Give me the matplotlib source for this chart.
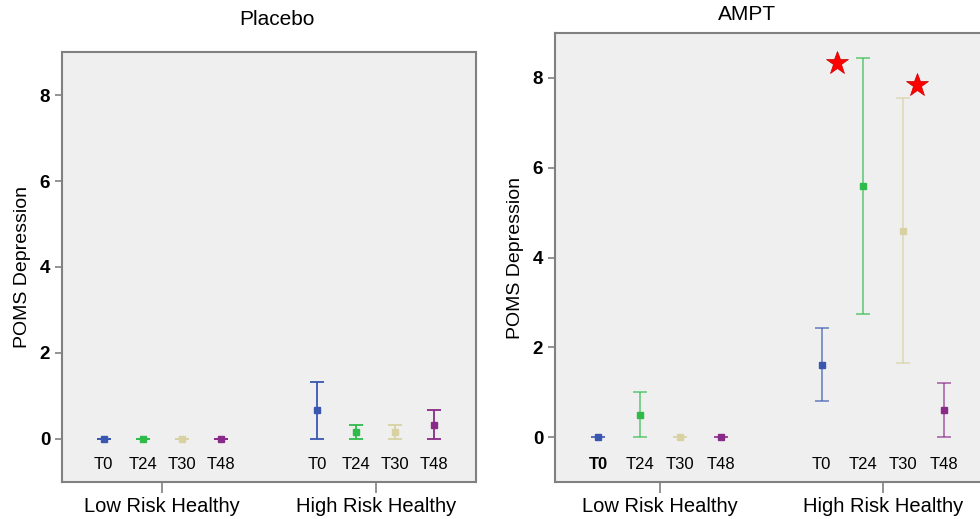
"""
    POMS Depression: Placebo vs AMPT
"""
from matplotlib import pyplot as plt

plt.rcParams['font.family'] = ['Liberation Sans', 'DejaVu Sans']

groups = ["Low Risk Healthy", "High Risk Healthy"]
times = ["T0", "T24", "T30", "T48"]
colors = ["#3a57b0", "#2fbb4a", "#d8d2a2", "#8a2a88"]
offsets = [-0.275, -0.09, 0.09, 0.275]

# 均值和误差条的上下端 (低风险, 高风险)
placebo_mean = [[0, 0, 0, 0], [0.67, 0.17, 0.17, 0.33]]
placebo_low = [[0, 0, 0, 0], [0, 0, 0, 0]]
placebo_high = [[0, 0, 0, 0], [1.33, 0.33, 0.33, 0.67]]

ampt_mean = [[0, 0.5, 0, 0], [1.6, 5.6, 4.6, 0.6]]
ampt_low = [[0, 0, 0, 0], [0.8, 2.75, 1.65, 0]]
ampt_high = [[0, 1.0, 0, 0], [2.42, 8.44, 7.56, 1.2]]

# 显著性星号 (x 偏移, y)
star_x = [-0.205, 0.152]
star_y = [8.33, 7.84]

fig = plt.figure(figsize=(9.8, 5.19), dpi=100)
ax1 = fig.add_axes([0.0633, 0.0713, 0.4224, 0.8285])
ax2 = fig.add_axes([0.5663, 0.0713, 0.4418, 0.865])


def draw(ax, mean, low, high, bar_alpha, bold_first=False):
    ax.set_facecolor("#efefef")
    for g in range(2):
        for i in range(4):
            x = g + offsets[i]
            m = mean[g][i]
            # 误差线
            ax.errorbar([x], [m], yerr=[[m - low[g][i]], [high[g][i] - m]],
                        fmt="none", ecolor=colors[i], elinewidth=1.3,
                        capsize=5, capthick=1.3, alpha=bar_alpha)
            # 均值点
            ax.plot(x, m, "s", color=colors[i], markersize=5, zorder=3)
            w = "bold" if (bold_first and g == 0 and i == 0) else "normal"
            ax.text(x, -0.6, times[i], ha="center", va="center", fontsize=12,
                    fontweight=w)
    ax.set_xlim(-0.47, 1.47)
    ax.set_ylim(-1, 9)
    ax.set_yticks([0, 2, 4, 6, 8])
    ax.set_xticks([0, 1])
    ax.set_xticklabels(groups, fontsize=14.5)
    ax.tick_params(axis="y", labelsize=13.5, length=5, width=1.2, color="#808080")
    ax.tick_params(axis="x", length=8, width=1.2, color="#808080", pad=3)
    for lab in ax.get_yticklabels():
        lab.set_fontweight("bold")
    for s in ax.spines.values():
        s.set_color("#808080")
        s.set_linewidth(1.5)
    ax.set_ylabel("POMS Depression", fontsize=14, labelpad=6)


draw(ax1, placebo_mean, placebo_low, placebo_high, 1)
draw(ax2, ampt_mean, ampt_low, ampt_high, 0.65, bold_first=True)

for sx, sy in zip(star_x, star_y):
    ax2.plot(1 + sx, sy, marker="*", markersize=17, color="red",
             markeredgecolor="#cc0000", markeredgewidth=0.5)

fig.text(0.283, 0.962, "Placebo", ha="center", va="center", fontsize=15)
fig.text(0.762, 0.972, "AMPT", ha="center", va="center", fontsize=15)

plt.savefig("out.png")
